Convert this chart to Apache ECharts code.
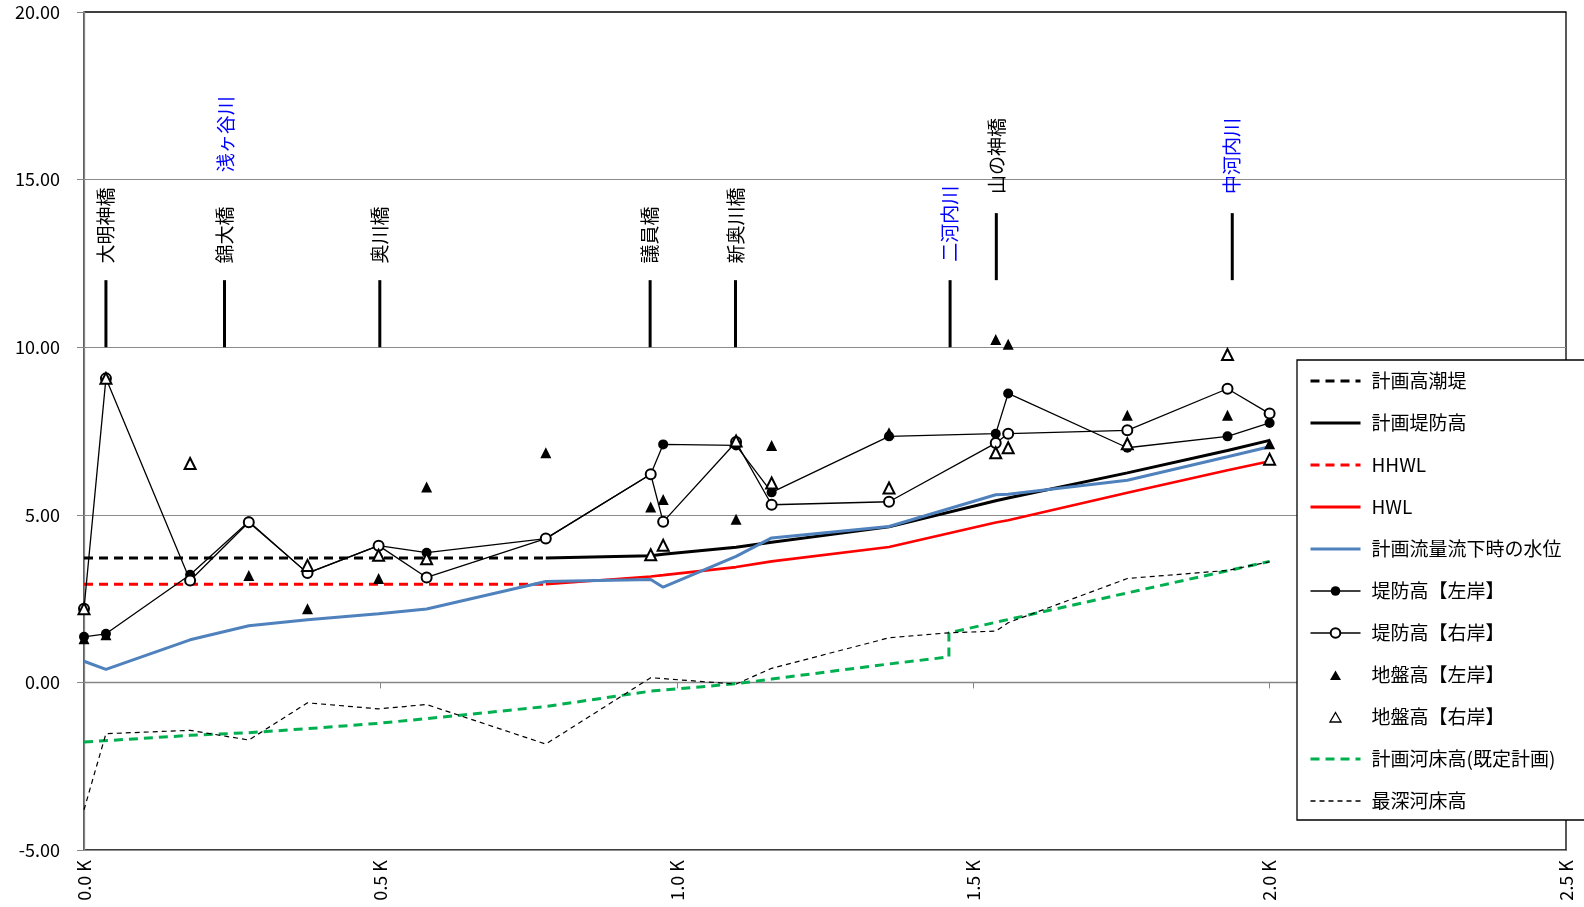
<!DOCTYPE html>
<html>
<head>
<meta charset="utf-8">
<title>縦断図</title>
<script src="https://cdn.jsdelivr.net/npm/echarts@6/dist/echarts.min.js"></script>
<style>
  html, body { margin: 0; padding: 0; background: #fff; }
  #main { width: 1584px; height: 907px; }
</style>
</head>
<body>
<div id="main"></div>
<script>
// 測点 (K)
const stationX   = [0, 0.037, 0.179, 0.278, 0.377, 0.497, 0.578, 0.779, 0.956, 0.977, 1.10, 1.16, 1.358, 1.538, 1.559, 1.76, 1.929, 2.0];
const leftBank   = [1.36, 1.45, 3.21, 4.80, 3.26, 4.08, 3.87, 4.29, 6.21, 7.10, 7.07, 5.67, 7.34, 7.42, 8.62, 7.00, 7.34, 7.74];
const rightBank  = [2.20, 9.07, 3.04, 4.78, 3.26, 4.08, 3.13, 4.29, 6.21, 4.79, 7.17, 5.30, 5.39, 7.14, 7.42, 7.52, 8.76, 8.02];
const leftGround = [1.30, 1.42, null, 3.19, 2.20, 3.10, 5.83, 6.85, 5.23, 5.46, 4.87, 7.07, 7.45, 10.23, 10.09, 7.97, 7.97, 7.12];
const rightGround= [2.20, 9.07, 6.53, null, 3.49, 3.79, 3.69, null, 3.81, 4.09, 7.20, 5.95, 5.80, 6.85, 7.00, 7.12, 9.78, 6.66];

// 計画高潮堤 / HHWL
const tideX = [0, 0.779];
const tideY = [3.71, 3.71];
const hhwlY = [2.93, 2.93];

// 計画堤防高 / HWL
const planX     = [0.779, 0.956, 0.977, 1.10, 1.16, 1.358, 1.538, 1.559, 1.76, 1.929, 2.0];
const planLevee = [3.71, 3.78, 3.82, 4.03, 4.18, 4.64, 5.42, 5.50, 6.25, 6.92, 7.22];
const hwl       = [2.93, 3.16, 3.20, 3.44, 3.61, 4.04, 4.77, 4.84, 5.66, 6.33, 6.60];

// 計画流量流下時の水位
const flowX = [0, 0.037, 0.179, 0.278, 0.377, 0.497, 0.578, 0.779, 0.956, 0.977, 1.10, 1.16, 1.358, 1.538, 1.559, 1.76, 1.929, 2.0];
const flowY = [0.63, 0.39, 1.27, 1.69, 1.87, 2.05, 2.19, 3.01, 3.07, 2.84, 3.76, 4.31, 4.65, 5.60, 5.61, 6.03, 6.73, 7.03];

// 計画河床高(既定計画)
const bedX = [0, 0.179, 0.278, 0.377, 0.497, 0.578, 0.779, 0.956, 1.10, 1.16, 1.358, 1.459, 1.459, 1.76, 2.0];
const bedY = [-1.78, -1.58, -1.50, -1.38, -1.22, -1.08, -0.72, -0.26, -0.04, 0.10, 0.55, 0.76, 1.48, 2.67, 3.61];

// 最深河床高
const deepX = [0, 0.037, 0.179, 0.278, 0.377, 0.497, 0.578, 0.779, 0.956, 1.10, 1.16, 1.358, 1.459, 1.538, 1.559, 1.76, 1.929, 2.0];
const deepY = [-3.80, -1.53, -1.43, -1.72, -0.61, -0.79, -0.66, -1.84, 0.14, -0.05, 0.42, 1.33, 1.48, 1.53, 1.78, 3.10, 3.34, 3.60];

// 橋・支川の注記
const annoNames = ['大明神橋', '浅ヶ谷川', '錦大橋', '奥川橋', '議員橋', '新奥川橋', '二河内川', '山の神橋', '中河内川'];
const annoKind  = ['橋', '川', '橋', '橋', '橋', '橋', '川', '橋', '川'];
const annoX     = [0.037, 0.239, 0.237, 0.499, 0.955, 1.099, 1.461, 1.539, 1.937];
const annoLow   = [10, null, 10, 10, 10, 10, 10, 12, 12];
const annoHigh  = [12, null, 12, 12, 12, 12, 12, 14, 14];
const annoTextY = [12.5, 15.22, 12.5, 12.5, 12.5, 12.5, 12.55, 14.57, 14.57];

const yTicks = [-5, 0, 5, 10, 15, 20];

function pairs(xs, ys) {
  const out = [];
  xs.forEach((x, i) => { if (ys[i] != null) out.push([x, ys[i]]); });
  return out;
}

const FONT = '"Noto Sans CJK JP", "Noto Sans", sans-serif';

// 線のみの凡例（記号を隠し、線幅を揃える）
function lineItem(name, width) {
  return { name: name, itemStyle: { opacity: 0 }, lineStyle: { width: width } };
}
// 凡例の小さい三角（枠いっぱいに伸びないよう余白つきのパス）
const TRI_ICON = 'path://M0,0 M50,12 M25,1.5 L30.5,11 L19.5,11 Z';

const chart = echarts.init(document.getElementById('main'));

chart.setOption({
  animation: false,
  textStyle: { fontFamily: FONT },
  grid: {
    left: 84, right: 18, top: 12, bottom: 57,
    show: true, borderColor: '#000', borderWidth: 1.3, backgroundColor: '#fff'
  },
  xAxis: {
    type: 'value', min: 0, max: 2.5, interval: 0.5,
    axisLine: { lineStyle: { color: '#868686', width: 1.3 } },
    axisTick: { show: true, length: 6, lineStyle: { color: '#868686' } },
    splitLine: { show: false },
    axisLabel: {
      rotate: 90, margin: 10, color: '#000', fontSize: 18, fontFamily: FONT,
      formatter: v => v.toFixed(1) + ' K'
    }
  },
  yAxis: {
    type: 'value', min: yTicks[0], max: yTicks[yTicks.length - 1], interval: 5,
    axisLine: { show: true, lineStyle: { color: '#868686', width: 1.3 } },
    axisTick: { show: true, length: 7, lineStyle: { color: '#868686' } },
    splitLine: { show: true, showMaxLine: false, lineStyle: { color: '#8c8c8c', width: 1.2 } },
    axisLabel: {
      margin: 24, color: '#000', fontSize: 18, fontFamily: FONT,
      formatter: v => v.toFixed(2)
    }
  },
  legend: {
    orient: 'vertical',
    left: 1297, top: 360,
    padding: [11, 24, 9, 12],
    itemGap: 22,
    itemWidth: 50,
    itemHeight: 12,
    backgroundColor: '#fff',
    borderColor: '#000',
    borderWidth: 1.3,
    borderRadius: 0,
    textStyle: { color: '#000', fontSize: 19, lineHeight: 20, fontFamily: FONT, padding: [0, 0, 0, 6] },
    data: [
      lineItem('計画高潮堤', 3),
      lineItem('計画堤防高', 3),
      lineItem('HHWL', 3),
      lineItem('HWL', 3),
      lineItem('計画流量流下時の水位', 3),
      { name: '堤防高【左岸】', lineStyle: { width: 1.5 } },
      { name: '堤防高【右岸】', lineStyle: { width: 1.5 } },
      { name: '地盤高【左岸】', icon: TRI_ICON, itemStyle: { color: '#000' } },
      { name: '地盤高【右岸】', icon: TRI_ICON, itemStyle: { color: '#fff', borderColor: '#000', borderWidth: 1.3 } },
      lineItem('計画河床高(既定計画)', 3),
      lineItem('最深河床高', 1.5)
    ]
  },
  series: [
    {
      name: '計画河床高(既定計画)', type: 'line', symbol: 'none', z: 2,
      data: pairs(bedX, bedY),
      lineStyle: { color: '#00b050', width: 3, type: [9, 6] },
      itemStyle: { color: '#00b050' }
    },
    {
      name: '最深河床高', type: 'line', symbol: 'none', z: 2,
      data: pairs(deepX, deepY),
      lineStyle: { color: '#000', width: 1.2, type: [5, 4] },
      itemStyle: { color: '#000' }
    },
    {
      name: '計画高潮堤', type: 'line', symbol: 'none', z: 2,
      data: pairs(tideX, tideY),
      lineStyle: { color: '#000', width: 3, type: [9, 6] },
      itemStyle: { color: '#000' }
    },
    {
      name: 'HHWL', type: 'line', symbol: 'none', z: 2,
      data: pairs(tideX, hhwlY),
      lineStyle: { color: '#ff0000', width: 3, type: [9, 6] },
      itemStyle: { color: '#ff0000' }
    },
    {
      name: 'HWL', type: 'line', symbol: 'none', z: 2,
      data: pairs(planX, hwl),
      lineStyle: { color: '#ff0000', width: 2.6 },
      itemStyle: { color: '#ff0000' }
    },
    {
      name: '計画堤防高', type: 'line', symbol: 'none', z: 2,
      data: pairs(planX, planLevee),
      lineStyle: { color: '#000', width: 3 },
      itemStyle: { color: '#000' }
    },
    {
      name: '計画流量流下時の水位', type: 'line', symbol: 'none', z: 2,
      data: pairs(flowX, flowY),
      lineStyle: { color: '#4f81bd', width: 3 },
      itemStyle: { color: '#4f81bd' }
    },
    {
      name: '堤防高【左岸】', type: 'line', symbol: 'circle', symbolSize: 10, z: 3,
      data: pairs(stationX, leftBank),
      lineStyle: { color: '#000', width: 1.3 },
      itemStyle: { color: '#000' }
    },
    {
      name: '堤防高【右岸】', type: 'line', symbol: 'emptyCircle', symbolSize: 10, z: 3,
      data: pairs(stationX, rightBank),
      lineStyle: { color: '#000', width: 1.3 },
      itemStyle: { color: '#000', borderWidth: 1.3 }
    },
    {
      name: '地盤高【左岸】', type: 'scatter', symbol: 'triangle', symbolSize: 11, z: 4,
      data: pairs(stationX, leftGround),
      itemStyle: { color: '#000', opacity: 1 }
    },
    {
      name: '地盤高【右岸】', type: 'scatter', symbol: 'emptyTriangle', symbolSize: 11, z: 4,
      data: pairs(stationX, rightGround),
      itemStyle: { color: '#000', borderWidth: 1.3, opacity: 1 }
    },
    {
      name: '注記', type: 'custom', z: 3, clip: false,
      data: annoX.map((x, i) => [x, annoTextY[i]]),
      encode: { x: 0, y: 1 },
      renderItem: function (params, api) {
        const i = params.dataIndex;
        const x = api.value(0);
        const children = [];
        if (annoLow[i] != null) {
          const p0 = api.coord([x, annoLow[i]]);
          const p1 = api.coord([x, annoHigh[i]]);
          children.push({
            type: 'line',
            shape: { x1: p0[0], y1: p0[1], x2: p1[0], y2: p1[1] },
            style: { stroke: '#000', lineWidth: 3 }
          });
        }
        const t = api.coord([x, api.value(1)]);
        children.push({
          type: 'text', x: t[0], y: t[1], rotation: Math.PI / 2,
          style: {
            text: annoNames[i],
            fill: annoKind[i] === '川' ? '#0000ff' : '#000',
            fontSize: 19, fontFamily: FONT,
            align: 'left', verticalAlign: 'middle'
          }
        });
        return { type: 'group', children: children };
      }
    }
  ]
});
</script>
</body>
</html>
